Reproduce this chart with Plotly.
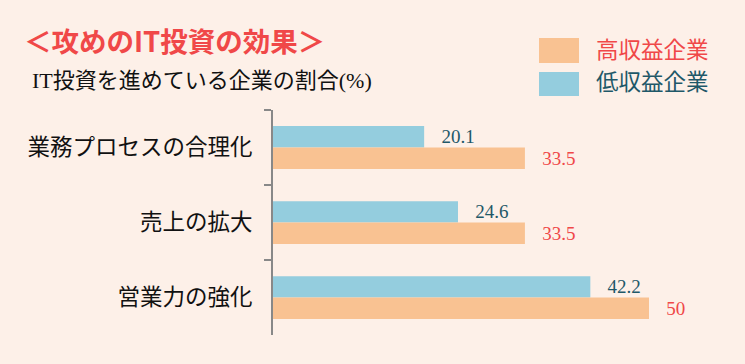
import plotly.graph_objects as go

categories = ["業務プロセスの合理化", "売上の拡大", "営業力の強化"]
high_profit = [33.5, 33.5, 50]
low_profit = [20.1, 24.6, 42.2]
series_names = ["高収益企業", "低収益企業"]
title_text = "＜攻めのIT投資の効果＞"
subtitle_text = "IT投資を進めている企業の割合(%)"

W, H = 745, 364
ML, MR, MT, MB = 273, 25, 110, 29
PW, PH = W - ML - MR, H - MT - MB

def px(x):
    return (x - ML) / PW

def py(y):
    return (H - MB - y) / PH

BG = "#FDF0E8"
BLUE = "#94CDDE"
ORANGE = "#F9C292"
RED = "#F04848"
TEAL = "#1F5868"
SERIF = "Liberation Serif, Noto Sans CJK JP, serif"
SANS_B = "Noto Sans CJK JP, sans-serif"
NB = "\u00a0\u00a0\u00a0"

fig = go.Figure()
fig.add_trace(go.Bar(
    y=categories, x=low_profit, orientation="h", name=series_names[1],
    marker=dict(color=BLUE, line=dict(width=0)),
    texttemplate=NB + "%{x}", textposition="outside",
    textfont=dict(family=SERIF, size=19, color=TEAL),
    cliponaxis=False, showlegend=False,
))
fig.add_trace(go.Bar(
    y=categories, x=high_profit, orientation="h", name=series_names[0],
    marker=dict(color=ORANGE, line=dict(width=0)),
    texttemplate=NB + "%{x}", textposition="outside",
    textfont=dict(family=SERIF, size=19, color=RED),
    cliponaxis=False, showlegend=False,
))

fig.update_layout(
    width=W, height=H,
    margin=dict(l=ML, r=MR, t=MT, b=MB, autoexpand=False),
    paper_bgcolor=BG, plot_bgcolor=BG,
    barmode="group", bargap=0.43, bargroupgap=0,
    xaxis=dict(range=[0, PW / 7.52], visible=False, fixedrange=True),
    yaxis=dict(
        autorange="reversed", showline=True, linecolor="#888888", linewidth=2,
        ticks="outside", tickson="boundaries", ticklen=7, tickwidth=2,
        tickcolor="#888888", showgrid=False, zeroline=False, fixedrange=True,
        tickfont=dict(family=SERIF, size=22.5, color="#111111"),
        ticklabelstandoff=14,
    ),
    font=dict(family=SERIF),
)

annotations = [
    dict(text=title_text, x=px(22), y=py(40), xanchor="left", yanchor="middle",
         font=dict(family=SANS_B, size=27.5, color=RED, weight="bold")),
    dict(text=subtitle_text, x=px(30), y=py(80), xanchor="left", yanchor="middle",
         font=dict(family=SERIF, size=22, color="#111111")),
    dict(text=series_names[0], x=px(594), y=py(50), xanchor="left", yanchor="middle",
         font=dict(family=SERIF, size=22.5, color=RED)),
    dict(text=series_names[1], x=px(594), y=py(83), xanchor="left", yanchor="middle",
         font=dict(family=SERIF, size=22.5, color=TEAL)),
]
for a in annotations:
    a.update(xref="paper", yref="paper", showarrow=False)
fig.update_layout(annotations=annotations)

fig.add_shape(type="rect", xref="paper", yref="paper", x0=px(539), x1=px(579),
              y0=py(38), y1=py(63), fillcolor=ORANGE, line=dict(width=0))
fig.add_shape(type="rect", xref="paper", yref="paper", x0=px(539), x1=px(579),
              y0=py(72), y1=py(96), fillcolor=BLUE, line=dict(width=0))

fig.write_html("out.html", config={"displayModeBar": False},
               post_script="document.body.style.margin='0';document.body.style.background='" + BG + "';")
